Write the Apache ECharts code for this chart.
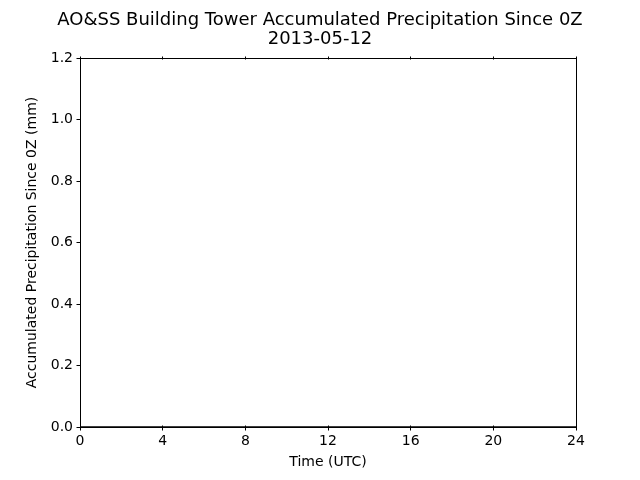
<!DOCTYPE html>
<html>
<head>
<meta charset="utf-8">
<script src="https://cdn.jsdelivr.net/npm/echarts@6/dist/echarts.min.js"></script>
<style>html,body{margin:0;padding:0;background:#fff}#c{width:640px;height:480px}</style>
</head>
<body>
<div id="c"></div>
<script>
var titleLines = ['AO&SS Building Tower Accumulated Precipitation Since 0Z', '2013-05-12'];
var xName = 'Time (UTC)';
var yName = 'Accumulated Precipitation Since 0Z (mm)';
var timeHours = [0, 6, 12, 18, 24];
var precipMm = [0, 0, 0, 0, 0];
var xTicks = [0, 4, 8, 12, 16, 20, 24];
var yTicks = [0.0, 0.2, 0.4, 0.6, 0.8, 1.0, 1.2];

var FONT = 'DejaVu Sans';
var chart = echarts.init(document.getElementById('c'), null, {renderer: 'canvas'});
var data = timeHours.map(function (t, i) { return [t, precipMm[i]]; });
function xBase(pos, inside, len, showLabel, showLine) {
  return {
    type: 'value', position: pos, min: xTicks[0], max: xTicks[xTicks.length - 1], interval: 4,
    axisLine: {show: showLine, onZero: false, lineStyle: {color: '#000', width: 1}},
    axisTick: {show: true, inside: inside, length: len, lineStyle: {color: '#000', width: 1}},
    axisLabel: {show: showLabel, color: '#000', fontFamily: FONT, fontSize: 14, margin: 7},
    splitLine: {show: false}
  };
}
var xa0 = xBase('bottom', false, 3.5, true, true);
xa0.name = xName; xa0.nameLocation = 'middle'; xa0.nameGap = 28;
xa0.nameTextStyle = {color: '#000', fontFamily: FONT, fontSize: 14};
var option = {
  backgroundColor: '#fff',
  animation: false,
  title: {
    text: titleLines.join('\n'), left: 'center', top: 6,
    textStyle: {color: '#000', fontFamily: FONT, fontSize: 18, fontWeight: 'normal', lineHeight: 19}
  },
  grid: {left: 80, right: 64, top: 58, bottom: 53, containLabel: false},
  xAxis: [xa0, xBase('bottom', true, 1.5, false, false), xBase('top', false, 1.5, false, true), xBase('top', true, 1.5, false, false)],
  yAxis: [{
    type: 'value', position: 'left', min: yTicks[0], max: yTicks[yTicks.length - 1], interval: 0.2,
    name: yName, nameLocation: 'middle', nameGap: 37,
    nameTextStyle: {color: '#000', fontFamily: FONT, fontSize: 14},
    axisLine: {show: true, onZero: false, lineStyle: {color: '#000', width: 1}},
    axisTick: {show: true, inside: false, length: 3.5, lineStyle: {color: '#000'}},
    axisLabel: {color: '#000', fontFamily: FONT, fontSize: 14, margin: 7, formatter: function (v) { return v.toFixed(1); }},
    splitLine: {show: false}
  }, {
    type: 'value', position: 'right', min: 0, max: 1.2, interval: 0.2,
    axisLine: {show: true, onZero: false, lineStyle: {color: '#000', width: 1}},
    axisTick: {show: false}, axisLabel: {show: false}, splitLine: {show: false}
  }],
  series: [{
    type: 'line', data: data, xAxisIndex: 0, yAxisIndex: 0, showSymbol: false, symbol: 'none',
    lineStyle: {color: '#000', width: 1.5}, clip: false, z: 5
  }]
};
chart.setOption(option);
</script>
</body>
</html>
